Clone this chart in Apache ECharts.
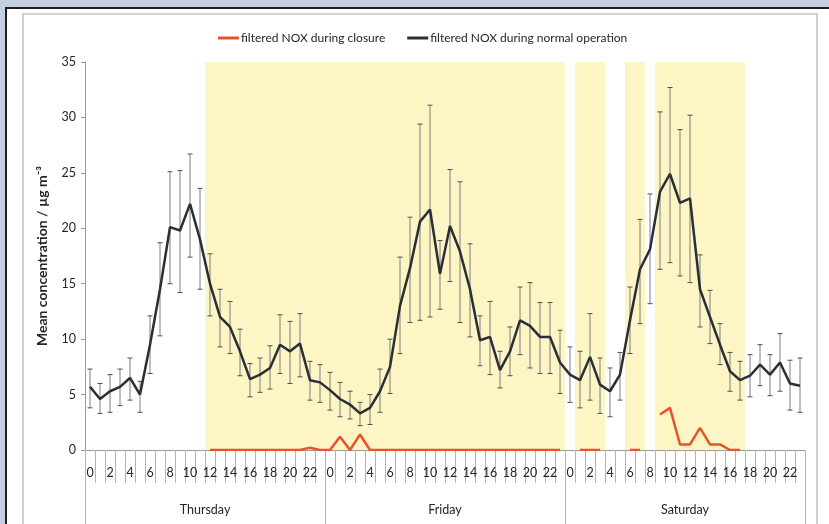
<!DOCTYPE html>
<html>
<head>
<meta charset="utf-8">
<script src="https://cdn.jsdelivr.net/npm/echarts@6/dist/echarts.min.js"></script>
<style>
  html, body { margin: 0; padding: 0; background: #c4d0e0; }
  #chart { width: 829px; height: 524px; }
</style>
</head>
<body>
<div id="chart"></div>
<script>
// Hour-of-day categories across three days
const days = ['Thursday', 'Friday', 'Saturday'];
const hours = [];
for (let d = 0; d < days.length; d++) for (let h = 0; h < 24; h++) hours.push(String(h));

// Filtered NOX during normal operation: hourly means and error bar bounds (µg m⁻³)
const normalMean = [
  5.7, 4.6, 5.3, 5.7, 6.5, 5.0, 9.5, 14.5, 20.1, 19.8, 22.2, 19.0,
  15.0, 12.0, 11.1, 8.9, 6.4, 6.8, 7.4, 9.5, 8.9, 9.6, 6.3, 6.1,
  5.4, 4.6, 4.1, 3.3, 3.8, 5.3, 7.5, 13.0, 16.4, 20.6, 21.7, 15.9,
  20.2, 17.9, 14.5, 9.9, 10.2, 7.2, 8.9, 11.7, 11.2, 10.2, 10.2, 7.9,
  6.8, 6.3, 8.4, 5.9, 5.3, 6.8, 11.7, 16.3, 18.1, 23.3, 24.9, 22.3,
  22.7, 14.5, 12.0, 9.5, 7.1, 6.3, 6.7, 7.7, 6.8, 7.9, 6.0, 5.8
];
const normalUpper = [
  7.3, 6.0, 6.8, 7.3, 8.3, 6.2, 12.1, 18.7, 25.1, 25.2, 26.7, 23.6,
  17.7, 14.5, 13.4, 10.9, 7.8, 8.3, 9.4, 12.2, 11.6, 12.3, 8.0, 7.7,
  7.0, 6.1, 5.3, 4.3, 5.0, 7.3, 10.0, 17.4, 21.0, 29.4, 31.1, 18.9,
  25.3, 24.2, 18.6, 12.1, 13.4, 8.9, 11.1, 14.7, 15.1, 13.3, 13.3, 10.8,
  9.3, 8.9, 12.3, 8.3, 7.4, 8.8, 14.7, 20.8, 23.1, 30.5, 32.7, 28.9,
  30.2, 17.6, 14.4, 11.4, 8.8, 8.0, 8.6, 9.5, 8.6, 10.5, 8.1, 8.3
];
const normalLower = [
  3.8, 3.3, 3.4, 4.0, 4.5, 3.4, 6.9, 10.3, 15.0, 14.2, 17.4, 14.5,
  12.1, 9.3, 8.7, 6.7, 4.8, 5.2, 5.5, 6.9, 6.0, 6.6, 4.5, 4.3,
  3.6, 3.0, 2.8, 2.2, 2.3, 3.4, 5.1, 8.7, 11.5, 11.7, 12.0, 12.7,
  15.2, 11.5, 10.2, 7.6, 6.8, 5.6, 6.7, 8.6, 7.4, 6.9, 6.9, 5.1,
  4.3, 3.8, 4.5, 3.3, 3.0, 4.5, 8.7, 11.4, 13.2, 16.3, 16.9, 15.7,
  15.1, 11.1, 9.6, 7.7, 5.3, 4.5, 4.8, 5.8, 4.9, 5.3, 3.6, 3.4
];

// Filtered NOX during closure (null = no closure that hour)
const closure = [
  null, null, null, null, null, null, null, null, null, null, null, null,
  0, 0, 0, 0, 0, 0, 0, 0, 0, 0, 0.2, 0,
  0, 1.2, 0, 1.4, 0, 0, 0, 0, 0, 0, 0, 0,
  0, 0, 0, 0, 0, 0, 0, 0, 0, 0, 0, 0,
  null, 0, 0, 0, null, null, 0, 0, null, 3.2, 3.8, 0.5,
  0.5, 2.0, 0.5, 0.5, 0, 0, null, null, null, null, null, null
];

const yTicks = { min: 0, max: 35, interval: 5 };

const FONT = 'Lato, "Open Sans", sans-serif';
const TEXT = '#262626';
const AXIS = '#9a9a9a';

// Shaded hours when the road was closed
const closureBand = closure.map(v => (v === null ? null : yTicks.max));

const errData = normalMean.map((_, i) => [i, normalLower[i], normalUpper[i]]);

function renderErrorBar(params, api) {
  const i = api.value(0);
  const lo = api.coord([i, api.value(1)]);
  const hi = api.coord([i, api.value(2)]);
  const cap = 2.5;
  const stem = { stroke: '#7f7f7f', lineWidth: 1 };
  const capStyle = { stroke: '#4a4f56', lineWidth: 1 };
  return {
    type: 'group',
    children: [
      { type: 'line', shape: { x1: hi[0], y1: hi[1], x2: lo[0], y2: lo[1] }, style: stem },
      { type: 'line', shape: { x1: hi[0] - cap, y1: hi[1], x2: hi[0] + cap, y2: hi[1] }, style: capStyle },
      { type: 'line', shape: { x1: lo[0] - cap, y1: lo[1], x2: lo[0] + cap, y2: lo[1] }, style: capStyle }
    ]
  };
}

const chart = echarts.init(document.getElementById('chart'), null, { renderer: 'canvas' });

chart.setOption({
  backgroundColor: '#c4d0e0',
  animation: false,
  textStyle: { fontFamily: FONT },
  graphic: [
    {
      type: 'rect', z: -100, silent: true,
      shape: { x: 6, y: 8, width: 900, height: 600 },
      style: { fill: '#ffffff', stroke: '#1e1e1e', lineWidth: 2 }
    },
    {
      type: 'rect', z: -99, silent: true,
      shape: { x: 23, y: 14, width: 794, height: 600 },
      style: { fill: '#ffffff', stroke: '#d2d2d2', lineWidth: 2 }
    }
  ],
  legend: {
    top: 27,
    left: 213,
    itemWidth: 21,
    itemHeight: 3,
    itemGap: 22,
    icon: 'rect',
    textStyle: { fontFamily: FONT, fontSize: 12, color: TEXT, padding: [0, 0, 0, -3] },
    data: ['filtered NOX during closure', 'filtered NOX during normal operation']
  },
  grid: { left: 85, right: 24, top: 62, bottom: 74, containLabel: false },
  xAxis: [
    {
      type: 'category',
      data: hours,
      boundaryGap: true,
      axisLine: { show: true, lineStyle: { color: AXIS, width: 1 } },
      axisTick: { show: true, interval: 0, length: 33, lineStyle: { color: '#b4b4b4' } },
      axisLabel: { interval: 1, margin: 16, fontSize: 12.5, color: TEXT, fontFamily: FONT },
      splitLine: { show: false }
    },
    {
      type: 'category',
      data: days,
      position: 'bottom',
      boundaryGap: true,
      axisLine: { show: false },
      axisTick: { show: true, interval: 0, length: 76, lineStyle: { color: '#b4b4b4' } },
      axisLabel: { interval: 0, margin: 53, fontSize: 12.5, color: TEXT, fontFamily: FONT },
      splitLine: { show: false }
    }
  ],
  yAxis: {
    type: 'value',
    min: yTicks.min,
    max: yTicks.max,
    interval: yTicks.interval,
    name: 'Mean concentration / µg m⁻³',
    nameLocation: 'middle',
    nameGap: 36,
    nameTextStyle: { fontFamily: FONT, fontSize: 14, fontWeight: 'bold', color: TEXT },
    axisLine: { show: true, lineStyle: { color: AXIS } },
    axisTick: { show: true, length: 4, lineStyle: { color: AXIS } },
    axisLabel: { margin: 9, fontSize: 12.5, color: TEXT, fontFamily: FONT },
    splitLine: { show: false }
  },
  series: [
    {
      name: 'closure period',
      type: 'bar',
      xAxisIndex: 0,
      data: closureBand,
      barWidth: '100%',
      barCategoryGap: '0%',
      itemStyle: { color: '#fdf5c4' },
      silent: true,
      z: 0
    },
    {
      name: 'error',
      type: 'custom',
      xAxisIndex: 0,
      renderItem: renderErrorBar,
      data: errData,
      encode: { x: 0, y: [1, 2] },
      silent: true,
      z: 3
    },
    {
      name: 'filtered NOX during closure',
      type: 'line',
      xAxisIndex: 0,
      data: closure,
      showSymbol: false,
      connectNulls: false,
      lineStyle: { color: '#e8532b', width: 2.5 },
      itemStyle: { color: '#e8532b' },
      z: 5
    },
    {
      name: 'filtered NOX during normal operation',
      type: 'line',
      xAxisIndex: 0,
      data: normalMean,
      showSymbol: false,
      lineStyle: { color: '#2a2e36', width: 2.5 },
      itemStyle: { color: '#2a2e36' },
      z: 6
    }
  ]
});
</script>
</body>
</html>
